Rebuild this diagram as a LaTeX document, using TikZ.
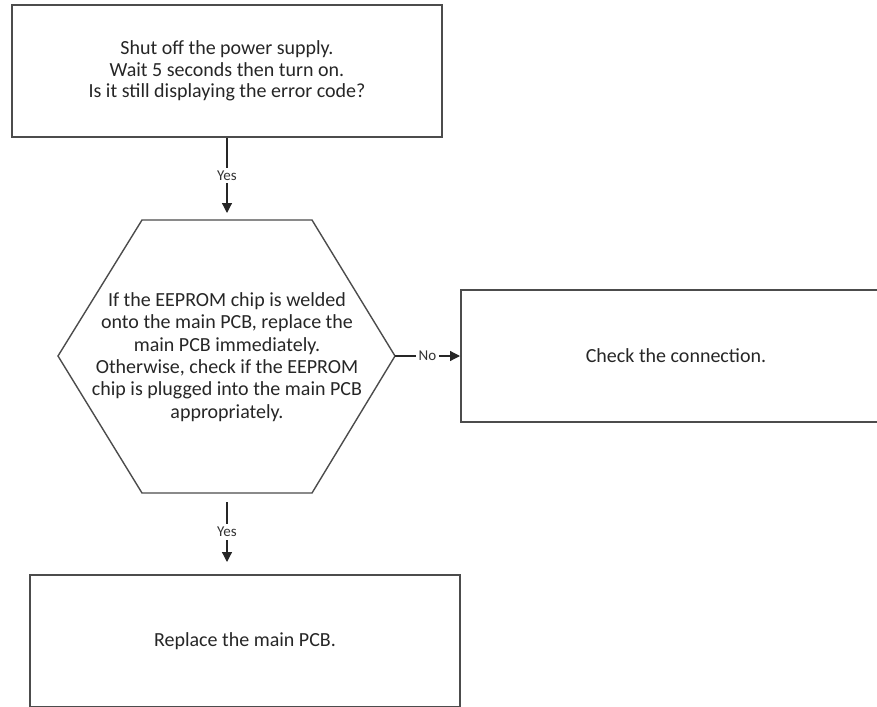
\documentclass[tikz,border=0pt]{standalone}
\usepackage{fontspec}
\setmainfont{Carlito}
\usetikzlibrary{arrows.meta}
\begin{document}
\begin{tikzpicture}[x=0.5pt, y=-0.5pt, line join=miter, font=\fontsize{10}{10.75}\selectfont,
	box/.style={draw=black!70, line width=1pt, minimum width=215pt, minimum height=66pt, align=center, text=black!85},
	link/.style={draw=black!85, line width=0.6pt, -{Triangle[length=5pt,width=5pt]}},
	lbl/.style={fill=white, inner sep=1.5pt, font=\fontsize{7.5}{8}\selectfont, text=black!80}]
	\clip (0,0) rectangle (877,706);
	\node[box] (power) at (227,71) {Shut off the power supply.\\Wait 5 seconds then turn on.\\Is it still displaying the error code?};
	% hexagon
	\draw[black!70, line width=0.7pt] (142,220) -- (312,220) -- (395,356) coordinate (hexR) -- (312,493) -- (142,493) -- (58,356) -- cycle;
	\coordinate (hexT) at (227,220);
	\coordinate (hexB) at (227,493);
	\node[align=center, text=black!85, font=\fontsize{10}{11.2}\selectfont] (eeprom) at (227,357) {If the EEPROM chip is welded\\onto the main PCB, replace the\\main PCB immediately.\\Otherwise, check if the EEPROM\\chip is plugged into the main PCB\\appropriately.};
	\node[box] (conn) at (676,356) {Check the connection.};
	\node[box] (replace) at (245,641) {Replace the main PCB.};
	\draw[link] (power.south) -- ([yshift=3.5pt]hexT) node[midway, lbl] {Yes};
	\draw[link] (hexR) -- (conn.west) node[midway, lbl] {No};
	\draw[link] ([yshift=-4.5pt]hexB) -- ([yshift=6pt]replace.north -| hexB) node[midway, lbl] {Yes};
\end{tikzpicture}
\end{document}
